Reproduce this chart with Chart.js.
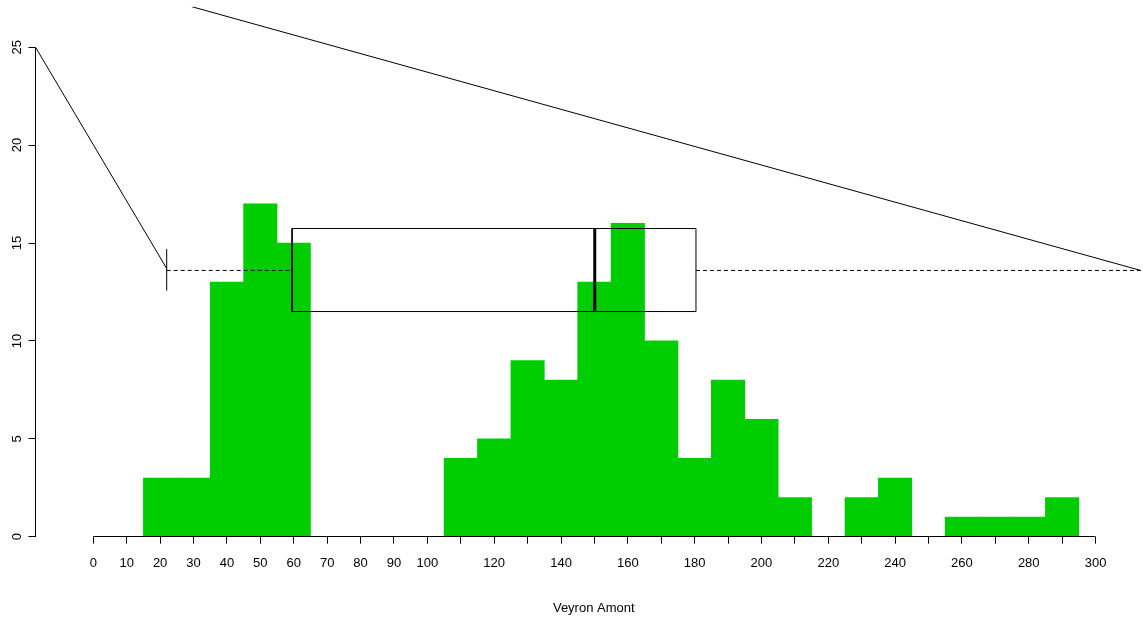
<!DOCTYPE html>
<html>
<head>
<meta charset="utf-8">
<title>Veyron Amont</title>
<script src="https://cdn.jsdelivr.net/npm/chart.js@4/dist/chart.umd.min.js"></script>
<style>
  html, body { margin: 0; padding: 0; background: #fff; overflow: hidden; }
  #wrap { width: 1153px; height: 618px; }
</style>
</head>
<body>
<div id="wrap"><canvas id="chart" width="1153" height="618"></canvas></div>
<script>
// Histogramme (classes de 10, centres)
const binCenters = [20, 30, 40, 50, 60, 70, 80, 90, 100, 110, 120, 130, 140, 150,
                    160, 170, 180, 190, 200, 210, 220, 230, 240, 250, 260, 270, 280, 290];
const binCounts  = [3, 3, 13, 17, 15, 0, 0, 0, 0, 4, 5, 9, 8, 13,
                    16, 10, 4, 8, 6, 2, 0, 2, 3, 0, 1, 1, 1, 2];

// Axes
const xTickValues = [0, 10, 20, 30, 40, 50, 60, 70, 80, 90, 100, 110, 120, 130, 140, 150,
                     160, 170, 180, 190, 200, 210, 220, 230, 240, 250, 260, 270, 280, 290, 300];
const xTickLabels = [0, 10, 20, 30, 40, 50, 60, 70, 80, 90, 100, 120, 140, 160, 180,
                     200, 220, 240, 260, 280, 300];
const yTickValues = [0, 5, 10, 15, 20, 25];
const xRange = [-17.3, 316.9];
const yRange = [0, 27.07];

// Boîte à moustaches superposée : moustache basse, Q1, médiane, Q3, moustache haute
const boxStats = [21.97, 59.5, 150.1, 180.4, 316.5];
const boxY = [11.5, 15.74];
const whiskerY = 13.6;
const capY = [12.57, 14.69];

// Segments obliques
const leftSlope = [[-17.3, 25], [21.97, 13.7]];
const topSlope = [[29.5, 27.07], [313.5, 13.6]];

const FONT = { family: '"Liberation Sans", Arial, sans-serif', size: 13 };
const INK = '#000';

const pts = arr => arr.map(p => ({ x: p[0], y: p[1] }));

function lineSet(data, opts) {
    return Object.assign({
        type: 'line',
        data: data,
        borderColor: INK,
        borderWidth: 1,
        pointRadius: 0,
        fill: false,
        tension: 0,
        order: 0
    }, opts || {});
}

const [lw, q1, med, q3, uw] = boxStats;

// Lignes d'axes limitées comme dans R (0..300 et 0..25)
const axisLines = {
    id: 'axisLines',
    afterDraw(chart) {
        const { ctx, chartArea, scales } = chart;
        const al = p => Math.round(p - 0.5) + 0.5;
        ctx.save();
        ctx.strokeStyle = INK;
        ctx.lineWidth = 1;
        ctx.beginPath();
        const yb = al(chartArea.bottom);
        ctx.moveTo(scales.x.getPixelForValue(xTickValues[0]), yb);
        ctx.lineTo(scales.x.getPixelForValue(xTickValues[xTickValues.length - 1]), yb);
        const xl = al(chartArea.left);
        ctx.moveTo(xl, scales.y.getPixelForValue(yTickValues[0]));
        ctx.lineTo(xl, scales.y.getPixelForValue(yTickValues[yTickValues.length - 1]));
        ctx.stroke();
        ctx.restore();
    }
};

new Chart(document.getElementById('chart'), {
    type: 'bar',
    data: {
        datasets: [
            {
                type: 'bar',
                data: binCenters.map((x, i) => ({ x: x, y: binCounts[i] })),
                backgroundColor: '#00CD00',
                borderWidth: 0,
                barPercentage: 1,
                categoryPercentage: 1,
                order: 10
            },
            // boîte
            lineSet(pts([[q1, boxY[0]], [q3, boxY[0]], [q3, boxY[1]], [q1, boxY[1]], [q1, boxY[0]]])),
            // médiane
            lineSet(pts([[med, boxY[0]], [med, boxY[1]]]), { borderWidth: 3 }),
            // moustaches
            lineSet(pts([[lw, whiskerY], [q1, whiskerY]]), { borderDash: [4, 3] }),
            lineSet(pts([[q3, whiskerY], [uw, whiskerY]]), { borderDash: [4, 3] }),
            lineSet(pts([[lw, capY[0]], [lw, capY[1]]])),
            lineSet(pts([[uw, capY[0]], [uw, capY[1]]])),
            // segments obliques
            lineSet(pts(leftSlope)),
            lineSet(pts(topSlope))
        ]
    },
    options: {
        responsive: false,
        animation: false,
        events: [],
        layout: { padding: { top: 6.7, right: 1, left: 0, bottom: 0 } },
        plugins: {
            legend: { display: false },
            tooltip: { enabled: false }
        },
        scales: {
            x: {
                type: 'linear',
                min: xRange[0],
                max: xRange[1],
                offset: false,
                border: { display: false },
                grid: { drawOnChartArea: false, tickLength: 7, color: INK, offset: false },
                ticks: {
                    autoSkip: false,
                    maxRotation: 0,
                    padding: 11.5,
                    color: INK,
                    font: FONT,
                    callback: v => xTickLabels.includes(v) ? String(v) : ''
                },
                title: {
                    display: true,
                    text: 'Veyron Amont',
                    color: INK,
                    font: FONT,
                    padding: { top: 0, bottom: 2 }
                },
                afterBuildTicks: s => { s.ticks = xTickValues.map(v => ({ value: v })); },
                afterFit: s => { s.height = 81.3; s.paddingLeft = 0; s.paddingRight = 0; }
            },
            y: {
                min: yRange[0],
                max: yRange[1],
                border: { display: false },
                grid: { drawOnChartArea: false, tickLength: 7, color: INK },
                ticks: {
                    minRotation: 90,
                    maxRotation: 90,
                    crossAlign: 'center',
                    padding: 4,
                    color: INK,
                    font: FONT
                },
                afterBuildTicks: s => { s.ticks = yTickValues.map(v => ({ value: v })); },
                afterFit: s => { s.width = 35.5; s.paddingTop = 0; s.paddingBottom = 0; }
            }
        }
    },
    plugins: [axisLines]
});
</script>
</body>
</html>
